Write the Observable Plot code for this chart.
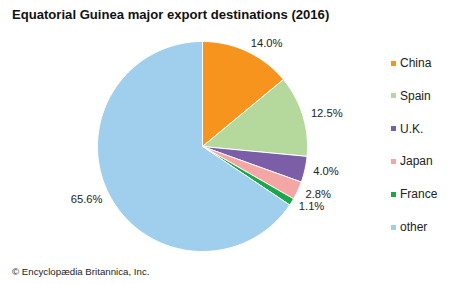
<!DOCTYPE html>
<html>
<head>
<meta charset="utf-8">
<script src="https://cdn.jsdelivr.net/npm/d3@7"></script>
<script src="https://cdn.jsdelivr.net/npm/@observablehq/plot@0.6"></script>
<style>
  body { margin: 0; background: #fff; font-family: "Liberation Sans", Arial, sans-serif; }
  #wrap { position: relative; width: 474px; height: 284px; overflow: hidden; }
  #title { position: absolute; left: 12px; top: 7px; font-size: 13.1px; font-weight: bold; color: #111; white-space: nowrap; }
  #credit { position: absolute; left: 12px; top: 266px; font-size: 9.7px; color: #222; white-space: nowrap; }
  #legend { position: absolute; left: 391px; top: 0; }
  .item { position: absolute; left: 0; white-space: nowrap; font-size: 12px; color: #222; display: flex; align-items: center; height: 14px; }
  .sw { width: 5px; height: 5px; margin-right: 4px; }
  svg { position: absolute; left: 0; top: 0; }
</style>
</head>
<body>
<div id="wrap">
  <div id="chart"></div>
  <div id="title">Equatorial Guinea major export destinations (2016)</div>
  <div id="legend"></div>
  <div id="credit">© Encyclopædia Britannica, Inc.</div>
</div>
<script>
const categories = ["China", "Spain", "U.K.", "Japan", "France", "other"];
const shares = [14.0, 12.5, 4.0, 2.8, 1.1, 65.6];
const sliceLabels = ["14.0%", "12.5%", "4.0%", "2.8%", "1.1%", "65.6%"];
const colors = ["#f7941d", "#b5d99c", "#7b5ea7", "#f4a6a4", "#1aa84a", "#9fcfed"];

const rows = categories.map((name, i) => ({name, share: shares[i], label: sliceLabels[i]}));
const arcs = d3.pie().sort(null).value(d => d.share)(rows);

// polygon points for each slice (unit circle, angle measured clockwise from top)
const pts = [];
for (const a of arcs) {
  const n = Math.max(2, Math.ceil((a.endAngle - a.startAngle) / (Math.PI / 180)));
  pts.push({name: a.data.name, x: 0, y: 0});
  for (let k = 0; k <= n; k++) {
    const t = a.startAngle + (a.endAngle - a.startAngle) * k / n;
    pts.push({name: a.data.name, x: Math.sin(t), y: Math.cos(t)});
  }
  pts.push({name: a.data.name, x: 0, y: 0});
}

const labelR = 1.08;
const labelPts = arcs.map(a => {
  const m = (a.startAngle + a.endAngle) / 2;
  return {label: a.data.label, x: labelR * Math.sin(m), y: labelR * Math.cos(m), right: Math.sin(m) >= 0};
});

const cx = 202, cy = 146, r = 105;
const chart = Plot.plot({
  width: 474,
  height: 284,
  margin: 0,
  x: {domain: [-1, 1], range: [cx - r, cx + r], axis: null},
  y: {domain: [-1, 1], range: [cy + r, cy - r], axis: null},
  color: {domain: categories, range: colors},
  style: {fontFamily: "Liberation Sans, Arial, sans-serif", background: "transparent"},
  marks: [
    Plot.line(pts, {x: "x", y: "y", z: "name", fill: "name", stroke: "white", strokeWidth: 1, curve: "linear"}),
    Plot.text(labelPts.filter(d => d.right), {x: "x", y: "y", text: "label", textAnchor: "start", fontSize: 11.2, fill: "#222"}),
    Plot.text(labelPts.filter(d => !d.right), {x: "x", y: "y", text: "label", textAnchor: "end", fontSize: 11.2, fill: "#222"})
  ]
});
document.getElementById("chart").appendChild(chart);

const legend = document.getElementById("legend");
const legendTop = 56, legendStep = 32.8;
categories.forEach((c, i) => {
  const item = document.createElement("div");
  item.className = "item";
  item.style.top = (legendTop + i * legendStep) + "px";
  const sw = document.createElement("span");
  sw.className = "sw";
  sw.style.background = colors[i];
  item.appendChild(sw);
  item.appendChild(document.createTextNode(c));
  legend.appendChild(item);
});
</script>
</body>
</html>
